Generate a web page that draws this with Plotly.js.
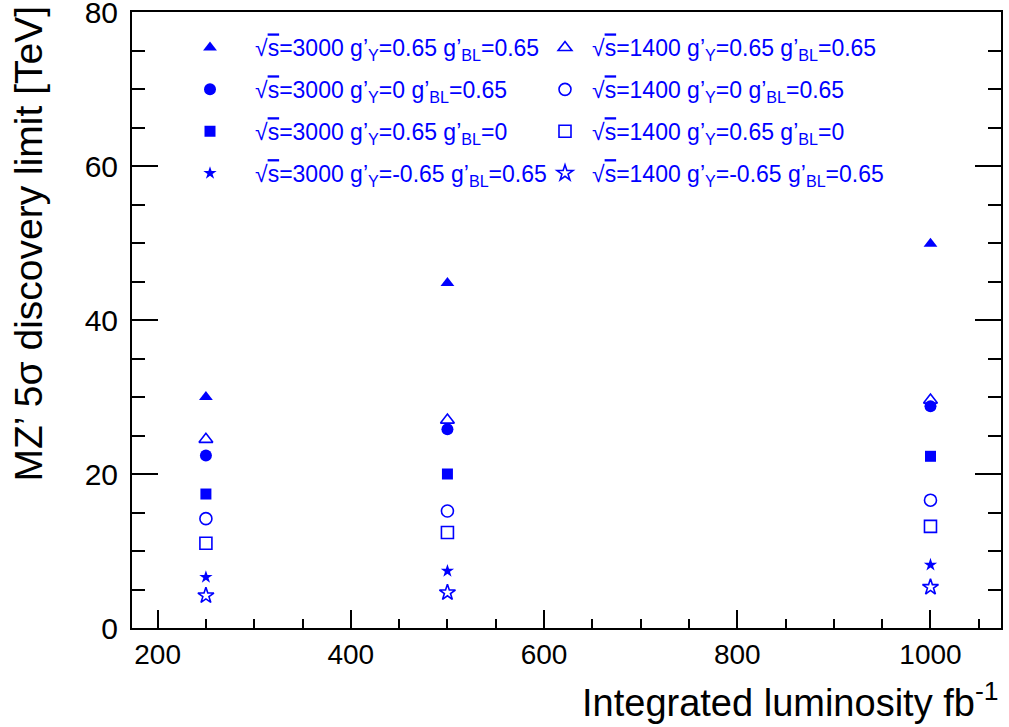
<!DOCTYPE html>
<html>
<head>
<meta charset="utf-8">
<script src="https://cdn.plot.ly/plotly-3.0.1.min.js"></script>
<style>html,body{margin:0;padding:0;background:#fff;}#chart{width:1009px;height:727px;}</style>
</head>
<body>
<div id="chart"></div>
<script>
// Integrated luminosity points (fb^-1)
const luminosity = [250, 500, 1000];

// MZ' 5 sigma discovery limit [TeV]
const s3000_gY065_gBL065 = [30.0, 44.8, 49.9];
const s3000_gY0_gBL065   = [22.4, 25.8, 28.8];
const s3000_gY065_gBL0   = [17.4, 20.0, 22.3];
const s3000_gYm065_gBL065 = [6.6, 7.4, 8.2];
const s1400_gY065_gBL065 = [24.5, 27.0, 29.6];
const s1400_gY0_gBL065   = [14.2, 15.2, 16.6];
const s1400_gY065_gBL0   = [11.0, 12.4, 13.2];
const s1400_gYm065_gBL065 = [4.2, 4.6, 5.3];

const seriesNames = [
  "s=3000 g’<sub>Y</sub>=0.65 g’<sub>BL</sub>=0.65",
  "s=3000 g’<sub>Y</sub>=0 g’<sub>BL</sub>=0.65",
  "s=3000 g’<sub>Y</sub>=0.65 g’<sub>BL</sub>=0",
  "s=3000 g’<sub>Y</sub>=-0.65 g’<sub>BL</sub>=0.65",
  "s=1400 g’<sub>Y</sub>=0.65 g’<sub>BL</sub>=0.65",
  "s=1400 g’<sub>Y</sub>=0 g’<sub>BL</sub>=0.65",
  "s=1400 g’<sub>Y</sub>=0.65 g’<sub>BL</sub>=0",
  "s=1400 g’<sub>Y</sub>=-0.65 g’<sub>BL</sub>=0.65"
];
const xTitle = "Integrated luminosity fb<sup>-1</sup>";
const yTitle = "MZ’ 5σ discovery limit [TeV]";

const seriesValues = [s3000_gY065_gBL065, s3000_gY0_gBL065, s3000_gY065_gBL0, s3000_gYm065_gBL065,
                      s1400_gY065_gBL065, s1400_gY0_gBL065, s1400_gY065_gBL0, s1400_gYm065_gBL065];
const symbols = ["triangle-up", "circle", "square", "star", "triangle-up-open", "circle-open", "square-open", "star-open"];
const sizes = [12, 12, 11, 10, 12, 12, 12, 12];
const BLUE = "#0000ff";
const FONT = "Liberation Sans, Arial, Helvetica, sans-serif";

function label(name){
  return "√<span style='text-decoration:overline'>" + name.slice(0,1) + "</span>" + name.slice(1);
}

const traces = seriesValues.map((vals, i) => ({
  type: "scatter",
  mode: "markers",
  x: luminosity,
  y: vals,
  name: label(seriesNames[i]),
  legend: i < 4 ? "legend" : "legend2",
  legendgroup: "g" + i,
  marker: {symbol: symbols[i], size: sizes[i], color: BLUE, line: {color: BLUE, width: symbols[i].endsWith("open") ? 1.6 : 0}},
  hoverinfo: "x+y"
}));

// plot area in pixels: left 132, right 1001, top 12, bottom 628
const PW = 869, PH = 616;
const legendCommon = {
  orientation: "v",
  traceorder: "grouped",
  tracegroupgap: 9,
  bgcolor: "rgba(0,0,0,0)",
  borderwidth: 0,
  font: {family: FONT, size: 23, color: BLUE},
  xref: "paper", yref: "paper",
  xanchor: "left", yanchor: "top",
  itemsizing: "trace",
  itemclick: false, itemdoubleclick: false
};

const layout = {
  width: 1009, height: 727,
  margin: {l: 132, r: 8, t: 12, b: 99, pad: 0},
  paper_bgcolor: "#fff", plot_bgcolor: "#fff",
  font: {family: FONT, color: "#000"},
  showlegend: true,
  legend: Object.assign({}, legendCommon, {x: (165-132)/PW, y: (628-26)/PH, itemwidth: 80}),
  legend2: Object.assign({}, legendCommon, {x: (538-132)/PW, y: (628-26)/PH, itemwidth: 44}),
  xaxis: {
    range: [173.5, 1073], dtick: 200, tick0: 0,
    ticks: "inside", ticklen: 18, tickwidth: 2, tickcolor: "#000",
    minor: {ticks: "inside", dtick: 50, ticklen: 9, tickwidth: 2, tickcolor: "#000"},
    showline: true, linewidth: 2, linecolor: "#000", mirror: true,
    showgrid: false, zeroline: false,
    ticklabeloverflow: "allow",
    tickfont: {family: FONT, size: 28, color: "#000"}
  },
  yaxis: {
    range: [0, 80], dtick: 20, tick0: 0,
    ticks: "inside", ticklen: 26, tickwidth: 2, tickcolor: "#000",
    minor: {ticks: "inside", dtick: 5, ticklen: 13, tickwidth: 2, tickcolor: "#000"},
    showline: true, linewidth: 2, linecolor: "#000", mirror: "ticks",
    showgrid: false, zeroline: false,
    ticklabeloverflow: "allow",
    ticklabelstandoff: 6,
    tickfont: {family: FONT, size: 30, color: "#000"}
  },
  annotations: [
    {text: xTitle, xref: "paper", yref: "paper", x: 1, y: 0, xanchor: "right", yanchor: "top",
     yshift: -46, showarrow: false, font: {family: FONT, size: 38, color: "#000"}},
    {text: yTitle, xref: "paper", yref: "paper", x: 0, y: 1, xanchor: "left", yanchor: "top",
     xshift: -128, yshift: 8, textangle: -90, showarrow: false, font: {family: FONT, size: 39, color: "#000"}}
  ]
};

Plotly.newPlot("chart", traces, layout, {displayModeBar: false});
</script>
</body>
</html>
